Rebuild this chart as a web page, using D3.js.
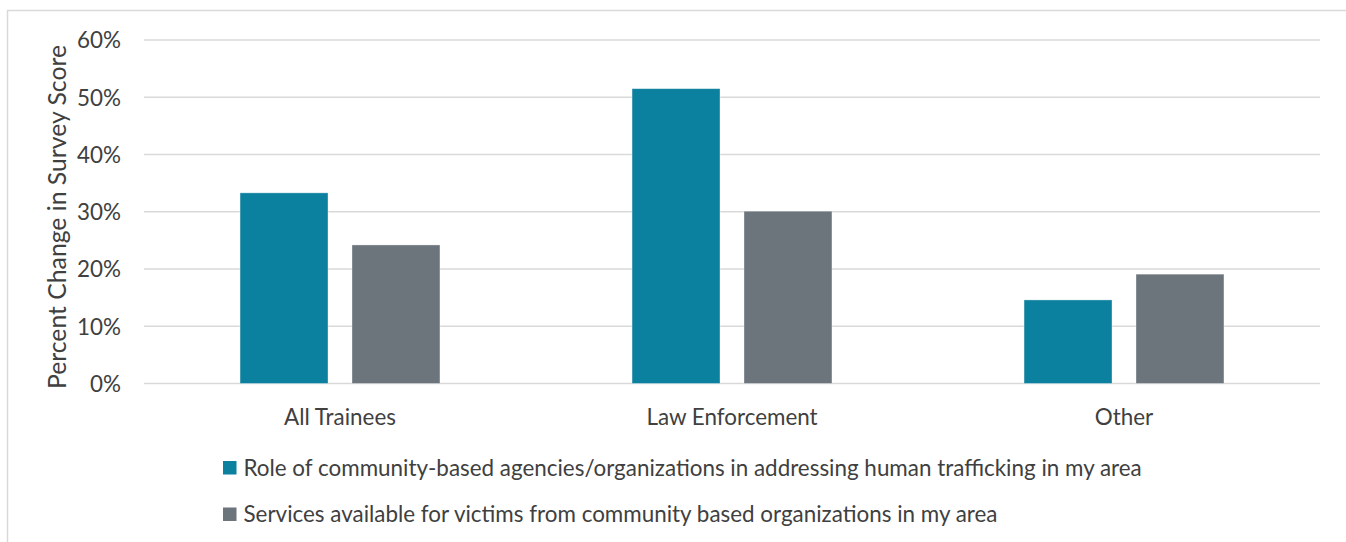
<!DOCTYPE html>
<html><head><meta charset="utf-8">
<script src="https://cdn.jsdelivr.net/npm/d3@7"></script>
<style>
html,body{margin:0;padding:0;background:#fff;}
text{font-family:Lato,"Open Sans",sans-serif;fill:#404040;}
</style></head>
<body>
<svg id="chart" width="1346" height="542"></svg>
<script>
const categories = ["All Trainees", "Law Enforcement", "Other"];
const seriesNames = [
  "Role of community-based agencies/organizations in addressing human trafficking in my area",
  "Services available for victims from community based organizations in my area"
];
const roleValues = [0.333, 0.515, 0.146];
const servicesValues = [0.242, 0.301, 0.191];
const yTicks = [0, 0.1, 0.2, 0.3, 0.4, 0.5, 0.6];
const yTitle = "Percent Change in Survey Score";
const colors = ["#0C809F", "#6C747C"];

const svg = d3.select("#chart");
const W = 1346, H = 542;
const margin = {left:144, right:26, top:40, bottom:158};
const plotW = 1320 - 144, plotH = 383.5 - 40;

// outer frame
svg.append("path").attr("d", `M7.5,${H} V10.5 H${W}`)
  .attr("fill","none").attr("stroke","#d9d9d9").attr("stroke-width",1.5);

const g = svg.append("g").attr("transform", `translate(${margin.left},${margin.top})`);

const y = d3.scaleLinear().domain([0, 0.6]).range([plotH, 0]);
const x0 = d3.scaleBand().domain(categories).range([0, plotW]).paddingInner(0.49).paddingOuter(0.245);
const x1 = d3.scaleBand().domain([0,1]).range([0, x0.bandwidth()]).paddingInner(24/112).paddingOuter(0);

// gridlines
g.append("g").selectAll("line").data(yTicks).join("line")
  .attr("x1",0).attr("x2",plotW)
  .attr("y1",d=>y(d)).attr("y2",d=>y(d))
  .attr("stroke","#d9d9d9").attr("stroke-width",1.3);

// y axis labels
const yAxis = d3.axisLeft(y).tickValues(yTicks).tickFormat(d3.format(".0%")).tickSize(0).tickPadding(23);
const ya = g.append("g").call(yAxis);
ya.select(".domain").remove();
ya.selectAll("text").attr("font-size",19).style("font-family","Lato, sans-serif").attr("fill","#404040").attr("dy","0.35em");

// bars
const table = categories.map((c,i)=>({cat:c, vals:[roleValues[i], servicesValues[i]]}));
const groups = g.selectAll("g.grp").data(table).join("g").attr("class","grp")
  .attr("transform", d=>`translate(${x0(d.cat)},0)`);
groups.selectAll("rect").data(d=>d.vals.map((v,k)=>({k,v}))).join("rect")
  .attr("x", d=>x1(d.k)).attr("width", x1.bandwidth())
  .attr("y", d=>y(d.v)).attr("height", d=>plotH - y(d.v))
  .attr("fill", d=>colors[d.k])
  .attr("stroke","rgba(255,255,255,0.45)").attr("stroke-width",0.8);

// x axis labels
const xAxis = d3.axisBottom(x0).tickSize(0).tickPadding(26);
const xa = g.append("g").attr("transform",`translate(0,${plotH})`).call(xAxis);
xa.select(".domain").remove();
xa.selectAll("text").attr("font-size",19).style("font-family","Lato, sans-serif").attr("fill","#404040");

// y title
const title = svg.append("text").attr("class","ytitle").attr("transform",`translate(66,${217}) rotate(-90)`)
  .attr("text-anchor","middle").attr("font-size",20).text(yTitle);

// legend
const leg = svg.append("g");
const legRows = seriesNames.map((s,i)=>({s,i}));
const lr = leg.selectAll("g").data(legRows).join("g")
  .attr("transform", d=>`translate(223,${461 + d.i*46.5})`);
lr.append("rect").attr("width",13.5).attr("height",13.5).attr("fill",d=>colors[d.i]);
lr.append("text").attr("x",20.5).attr("y",7).attr("dy","0.35em").attr("font-size",19).text(d=>d.s);

// fit font size to reference text widths
const t0 = lr.select("text").node();
const w0 = t0.getComputedTextLength();
const scale = (1142 - 243.5) / w0;
const fs = 19*scale;
svg.selectAll("text").attr("font-size", fs);
const tw = title.node().getComputedTextLength();
title.attr("font-size", fs * 344 / tw);
</script>
</body></html>
